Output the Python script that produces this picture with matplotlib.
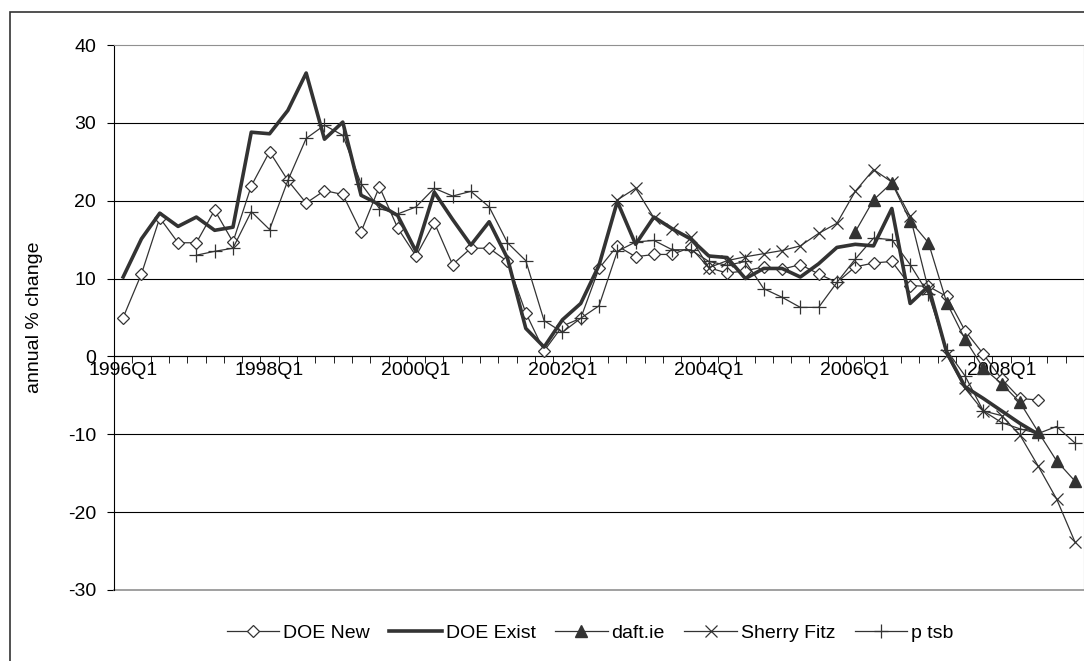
import numpy as np
import matplotlib.pyplot as plt
from matplotlib.patches import Rectangle

plt.rcParams['font.family'] = ['Liberation Sans', 'DejaVu Sans']
plt.rcParams['axes.unicode_minus'] = False

# quarterly categories 1996Q1 .. 2009Q1
quarters = [f"{y}Q{q}" for y in range(1996, 2010) for q in range(1, 5)][:53]
n = None

doe_new = [5.0, 10.6, 17.8, 14.6, 14.6, 18.8, 14.7, 21.9, 26.3, 22.6, 19.7, 21.3, 20.8,
           16.0, 21.8, 16.5, 12.9, 17.2, 11.8, 13.9, 13.9, 12.2, 5.6, 0.7, 3.9, 4.9,
           11.3, 14.2, 12.8, 13.1, 13.1, 14.0, 11.4, 10.7, 11.0, 11.5, 11.2, 11.8, 10.6,
           9.5, 11.5, 12.0, 12.2, 9.1, 9.0, 7.7, 3.3, 0.3, -2.9, -5.4, -5.6, n, n]
doe_exist = [10.2, 15.1, 18.4, 16.7, 17.9, 16.2, 16.6, 28.8, 28.6, 31.6, 36.4, 27.9, 30.1,
             20.7, 19.5, 18.1, 13.5, 21.1, 17.6, 14.3, 17.3, 12.6, 3.6, 1.2, 4.7, 6.8,
             11.7, 19.9, 14.4, 17.9, 16.4, 15.1, 12.9, 12.7, 10.0, 11.3, 11.3, 10.2, 11.9,
             14.0, 14.4, 14.2, 19.0, 6.8, 9.0, 0.5, -3.9, -5.4, -7.0, -8.6, -10.0, n, n]
daft = [n] * 40 + [16.0, 20.1, 22.3, 17.4, 14.6, 6.9, 2.2, -1.5, -3.5, -5.9, -9.7, -13.4, -16.0]
sherry_fitz = [n] * 27 + [20.1, 21.6, 17.8, 16.4, 15.3, 11.4, 12.3, 12.8, 13.2, 13.6, 14.2,
                          15.8, 17.1, 21.2, 24.0, 22.4, 18.0, 8.6, 0.2, -4.1, -7.0, -7.6,
                          -10.1, -14.1, -18.3, -23.8]
ptsb = [n] * 4 + [13.0, 13.5, 13.9, 18.6, 16.3, 22.6, 28.0, 29.7, 28.4, 22.2, 19.0, 18.3,
                  19.2, 21.6, 20.6, 21.2, 19.2, 14.6, 12.3, 4.6, 3.1, 4.9, 6.5, 13.5, 14.7,
                  14.9, 13.7, 13.7, 12.2, 11.7, 12.2, 8.7, 7.6, 6.3, 6.3, 9.5, 12.5, 15.2,
                  15.0, 11.8, 8.0, 0.8, -2.5, -7.0, -8.5, -9.3, -9.9, -9.0, -11.1]

x = np.arange(len(quarters))
def arr(v):
    return np.array([np.nan if a is None else a for a in v], dtype=float)

fig = plt.figure(figsize=(10.84, 6.61), dpi=100)
ax = fig.add_axes([114/1084, 1 - 590/661, 1 - 114/1084, (590 - 45)/661])

c = '#333333'
ax.plot(x, arr(doe_new), color=c, lw=0.9, marker='D', ms=6.5, mfc='white', mec=c, mew=0.9, label='DOE New', zorder=3)
ax.plot(x, arr(doe_exist), color=c, lw=2.6, label='DOE Exist', zorder=4)
ax.plot(x, arr(daft), color=c, lw=0.9, marker='^', ms=8, mfc=c, mec=c, label='daft.ie', zorder=3)
ax.plot(x, arr(sherry_fitz), color=c, lw=0.9, marker='x', ms=8.5, mew=0.9, label='Sherry Fitz', zorder=3)
ax.plot(x, arr(ptsb), color=c, lw=0.9, marker='+', ms=10, mew=0.9, label='p tsb', zorder=3)

ax.set_xlim(-0.5, len(quarters) - 0.5)
ax.set_ylim(-30, 40)
ax.set_yticks(range(-30, 41, 10))
ax.yaxis.grid(True, color='black', lw=0.8)
ax.set_axisbelow(True)
gl = ax.get_ygridlines()
gl[0].set_visible(False)
gl[-1].set_visible(False)

# x axis crossing at zero
ax.spines['bottom'].set_position(('data', 0))
ax.spines['bottom'].set_color('black')
ax.spines['left'].set_color('black')
ax.spines['top'].set_color('#909090')
ax.spines['right'].set_color('#909090')
ax.axhline(-30, color='#909090', lw=1.2, clip_on=False)

ax.set_xticks(x[::8])
ax.set_xticklabels(quarters[::8])
ax.set_xticks(np.arange(-0.5, len(quarters), 1), minor=True)
ax.tick_params(axis='x', which='major', length=0, pad=4, labelsize=14)
ax.tick_params(axis='x', which='minor', length=5, direction='out', color='black')
ax.tick_params(axis='y', length=5, direction='out', pad=8, labelsize=14, color='black')

fig.text(35/1084, 1 - 317/661, 'annual % change', rotation=90, ha='center', va='center', fontsize=14)

fig.legend(loc='center', bbox_to_anchor=(590/1084, 1 - 633/661), ncol=5, frameon=False,
           fontsize=14, handlelength=2.7, handletextpad=0.2, columnspacing=1.0, numpoints=1)

fig.add_artist(Rectangle((10/1084, -0.1), 1.2, 1.1 - 12/661, transform=fig.transFigure,
                         fill=False, lw=1.2, ec='#333333'))

plt.savefig('out.png', dpi=100)
